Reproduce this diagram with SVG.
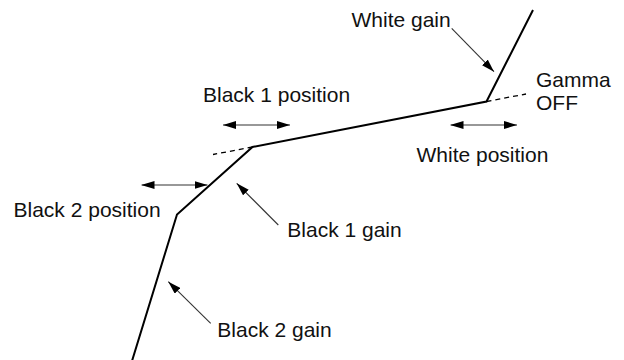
<svg xmlns="http://www.w3.org/2000/svg" width="624" height="360" viewBox="0 0 624 360">
<style>
  .lbl { font-family: "Liberation Sans", Arial, sans-serif; font-size: 21px; fill: #111; }
  .curve { fill: none; stroke: #000; stroke-width: 2; stroke-linejoin: miter; }
  .dash { fill: none; stroke: #000; stroke-width: 1.3; stroke-dasharray: 5 4; }
  .arr { fill: none; stroke: #333; stroke-width: 1.1; }
</style>
<defs>
  <marker id="ah" viewBox="0 0 13 8" refX="13" refY="4" markerWidth="13" markerHeight="8" markerUnits="userSpaceOnUse" orient="auto-start-reverse">
    <path d="M0,0 L13,4 L0,8 z" fill="#000"/>
  </marker>
</defs>
<rect width="624" height="360" fill="#fff"/>
<g id="curve">
  <polyline class="curve" points="132,361 177,214.5 252.5,147 486.5,101.5 533,10"/>
  <line class="dash" x1="252.5" y1="147" x2="213" y2="154.5"/>
  <line class="dash" x1="486.5" y1="101.5" x2="526" y2="94"/>
</g>
<g id="connectors">
  <line class="arr" x1="223" y1="125" x2="290" y2="125" marker-start="url(#ah)" marker-end="url(#ah)"/>
  <line class="arr" x1="450.5" y1="125" x2="517" y2="125" marker-start="url(#ah)" marker-end="url(#ah)"/>
  <line class="arr" x1="141.5" y1="185" x2="207.5" y2="185" marker-start="url(#ah)" marker-end="url(#ah)"/>
  <line class="arr" x1="451.7" y1="28.3" x2="494" y2="71.7" marker-end="url(#ah)"/>
  <line class="arr" x1="278.3" y1="225" x2="236.7" y2="183.3" marker-end="url(#ah)"/>
  <line class="arr" x1="210.7" y1="323.3" x2="168.3" y2="281.7" marker-end="url(#ah)"/>
</g>
<g id="white-gain"><text class="lbl" x="351.5" y="26.5">White gain</text></g>
<g id="gamma-off"><text class="lbl" x="536" y="86.5">Gamma</text><text class="lbl" x="536" y="110">OFF</text></g>
<g id="black1-position"><text class="lbl" x="203" y="102">Black 1 position</text></g>
<g id="white-position"><text class="lbl" x="416.5" y="161.5">White position</text></g>
<g id="black2-position"><text class="lbl" x="13.5" y="216.5">Black 2 position</text></g>
<g id="black1-gain"><text class="lbl" x="287.3" y="237.3">Black 1 gain</text></g>
<g id="black2-gain"><text class="lbl" x="217.3" y="336.7">Black 2 gain</text></g>
</svg>
